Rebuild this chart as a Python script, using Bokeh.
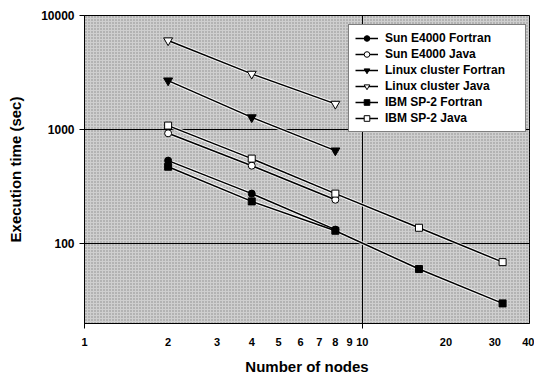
from bokeh.plotting import figure
from bokeh.models import FixedTicker, Legend, LegendItem, BoxAnnotation, NumeralTickFormatter
from bokeh.embed import file_html
from bokeh.resources import INLINE

# ---- data ----
nodes_sun = [2, 4, 8]
sun_fortran = [535, 275, 133]
sun_java = [928, 483, 243]

nodes_linux = [2, 4, 8]
linux_fortran = [2690, 1280, 655]
linux_java = [6040, 3080, 1680]

nodes_ibm = [2, 4, 8, 16, 32]
ibm_fortran = [473, 235, 130, 60, 30]
ibm_java = [1085, 557, 275, 138, 69]

series_labels = ["Sun E4000 Fortran", "Sun E4000 Java", "Linux cluster Fortran",
                 "Linux cluster Java", "IBM SP-2 Fortran", "IBM SP-2 Java"]

x_ticks = [1, 2, 3, 4, 5, 6, 7, 8, 9, 10, 20, 30, 40]
x_tick_labels = ["1", "2", "3", "4", "5", "6", "7", "8", "9", "10", "20", "30", "40"]
y_ticks = [100, 1000, 10000]
y_tick_labels = ["100", "1000", "10000"]

FONT = "Liberation Sans"

p = figure(width=534, height=378, x_axis_type="log", y_axis_type="log",
           x_range=(1, 40), y_range=(20, 10000),
           output_backend="svg", toolbar_location=None,
           min_border_left=84, min_border_right=5, min_border_top=15, min_border_bottom=55)

p.background_fill_color = "#cfcfcf"
p.border_fill_color = "white"
p.outline_line_color = "black"
p.outline_line_width = 1

texture = BoxAnnotation(fill_color=None, line_color=None, hatch_pattern="dot",
                        hatch_color="#8a8a8a", hatch_scale=3, hatch_weight=1,
                        level="image")
p.add_layout(texture)

# axes
p.xaxis.ticker = FixedTicker(ticks=x_ticks, minor_ticks=[1, 10])
p.xaxis.formatter = NumeralTickFormatter(format="0")
p.xaxis.major_label_overrides = {t: s for t, s in zip(x_ticks, x_tick_labels)}
p.xaxis.major_tick_line_color = None
p.xaxis.major_tick_out = 5
p.xaxis.major_tick_in = 0
p.xaxis.minor_tick_line_color = "black"
p.xaxis.minor_tick_out = 5
p.xaxis.minor_tick_in = 0
p.xaxis.major_label_standoff = 9
p.xaxis.axis_label = "Number of nodes"
p.xaxis.axis_label_standoff = 9

p.yaxis.ticker = FixedTicker(ticks=y_ticks, minor_ticks=[])
p.yaxis.formatter = NumeralTickFormatter(format="0")
p.yaxis.major_label_overrides = {t: s for t, s in zip(y_ticks, y_tick_labels)}
p.yaxis.major_tick_line_color = "black"
p.yaxis.major_tick_out = 5
p.yaxis.major_tick_in = 0
p.yaxis.minor_tick_line_color = None
p.yaxis.major_label_standoff = 5
p.yaxis.axis_label = "Execution time (sec)"
p.yaxis.axis_label_standoff = 14

for ax in (p.xaxis, p.yaxis):
    ax.axis_line_color = "black"
    ax.major_label_text_font = FONT
    ax.major_label_text_font_style = "bold"
    ax.major_label_text_color = "black"
    ax.axis_label_text_font = FONT
    ax.axis_label_text_font_style = "bold"
    ax.axis_label_text_color = "black"
    ax.axis_label_text_font_size = "15px"
p.xaxis.major_label_text_font_size = "11px"
p.yaxis.major_label_text_font_size = "12px"

p.xgrid.ticker = FixedTicker(ticks=[10])
p.ygrid.ticker = FixedTicker(ticks=[100, 1000])
p.xgrid.grid_line_color = "black"
p.ygrid.grid_line_color = "black"
p.xgrid.grid_line_width = 1
p.ygrid.grid_line_width = 1

# series
specs = [
    (nodes_sun, sun_fortran, "circle", "black", 7),
    (nodes_sun, sun_java, "circle", "white", 7),
    (nodes_linux, linux_fortran, "inverted_triangle", "black", 9),
    (nodes_linux, linux_java, "inverted_triangle", "white", 9),
    (nodes_ibm, ibm_fortran, "square", "black", 7),
    (nodes_ibm, ibm_java, "square", "white", 7),
]

items = []
for (xs, ys, marker, fill, size), label in zip(specs, series_labels):
    p.line(xs, ys, line_color="white", line_width=3.5, line_alpha=0.8)
for (xs, ys, marker, fill, size), label in zip(specs, series_labels):
    lr = p.line(xs, ys, line_color="black", line_width=1.5)
    mr = p.scatter(xs, ys, marker=marker, size=size, fill_color=fill,
                   line_color="black", line_width=1)
    items.append(LegendItem(label=label, renderers=[lr, mr]))

legend = Legend(items=items, location=(264, 191), margin=0, padding=6,
                spacing=2, glyph_width=23, glyph_height=14, label_height=14,
                label_width=134, label_standoff=7,
                label_text_font=FONT, label_text_font_style="bold",
                label_text_font_size="12px", label_text_color="black",
                border_line_color="black", border_line_width=1,
                background_fill_color="white", background_fill_alpha=1)
p.add_layout(legend)

open("out.html", "w").write(file_html(p, INLINE))
